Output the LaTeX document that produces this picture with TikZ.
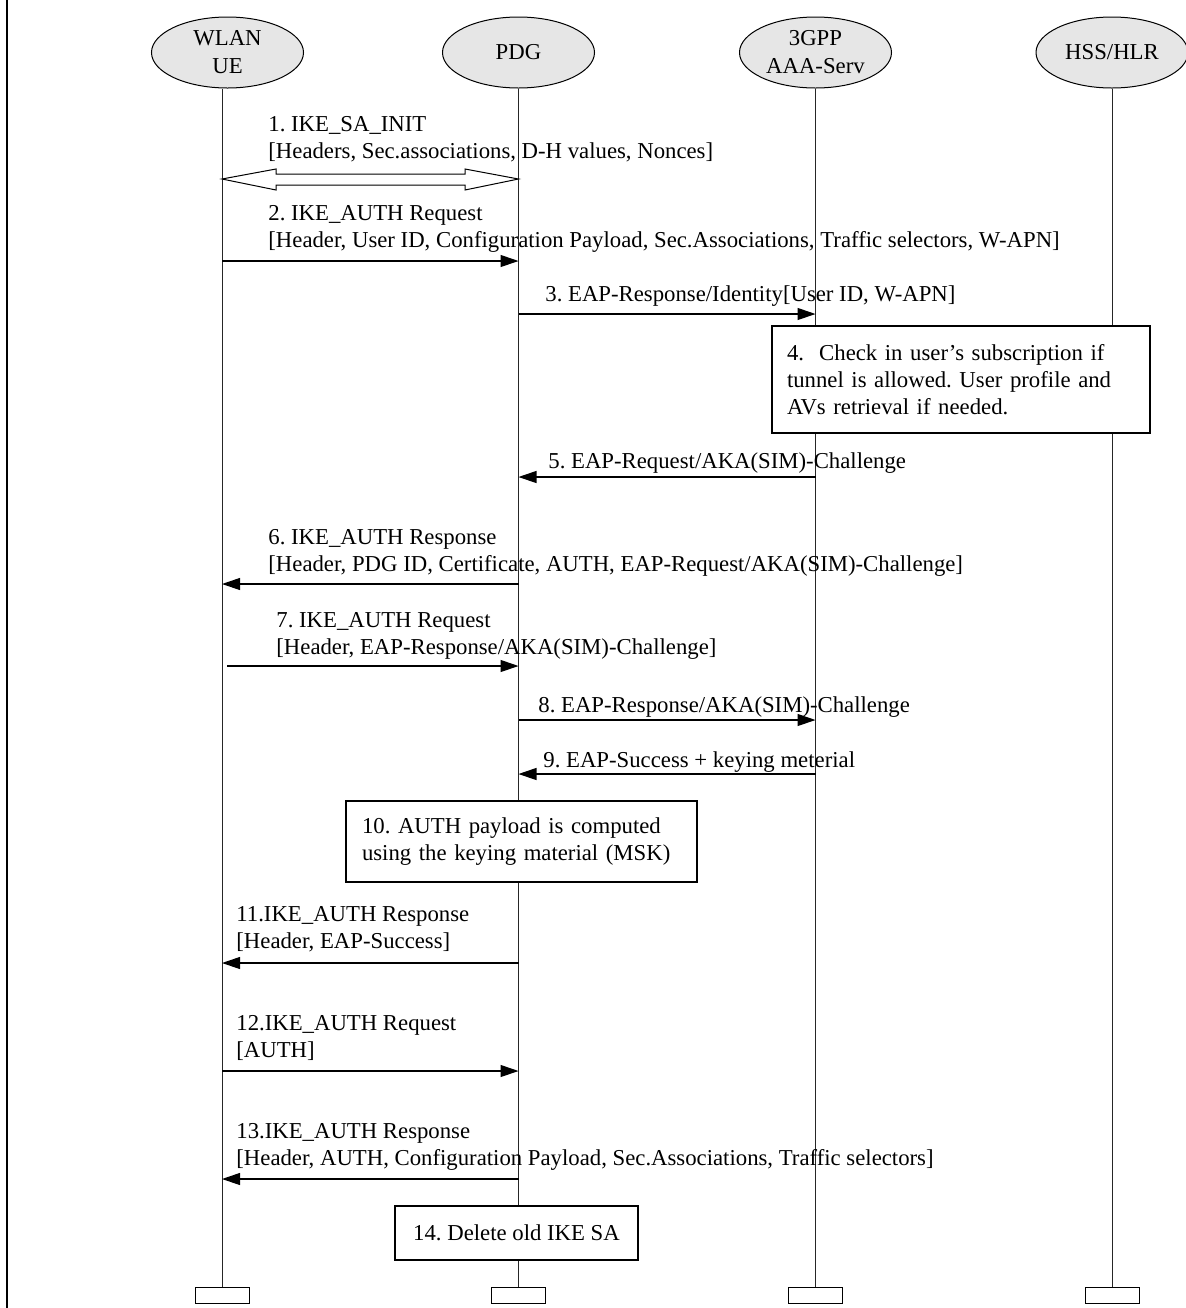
\documentclass[tikz,border=0pt]{standalone}
\usepackage{fontspec}
\setmainfont{Liberation Serif}
\usetikzlibrary{arrows.meta,shapes.geometric}
\definecolor{ellfill}{RGB}{230,230,230}
\newcommand{\twolines}[2]{\begin{tabular}[t]{@{}l@{}}#1\\\relax #2\end{tabular}}
\begin{document}
\frenchspacing
\begin{tikzpicture}[x=0.5pt,y=-0.5pt,
  every node/.style={font=\fontsize{11.375}{13.5}\selectfont\frenchspacing},
  actor/.style={ellipse, draw, fill=ellfill, minimum width=76pt, minimum height=35.5pt,
    inner sep=0pt, align=center, line width=0.5pt, font=\fontsize{11.375}{14}\selectfont},
  foot/.style={rectangle, draw, fill=white, minimum width=27pt, minimum height=8pt,
    inner sep=0pt, line width=0.5pt},
  life/.style={line width=0.5pt, draw=black!85},
  msg/.style={line width=0.55pt, -{Triangle[length=9pt,width=6pt]}},
  lbl/.style={anchor=base west, inner sep=0pt},
  note/.style={rectangle, draw, fill=white, line width=0.55pt, inner ysep=0pt}]
\useasboundingbox (0,0) rectangle (1185,1308);
% left border line
\draw[line width=1.2pt] (7,0) -- (7,1308);
% actors
\node[actor] (ue)  at (227.5,52.5) {WLAN\\UE};
\node[actor] (pdg) at (518.5,52.5) {PDG};
\node[actor] (aaa) at (815.5,52.5) {3GPP\\AAA-Serv};
\node[actor] (hss) at (1112,52.5) {HSS/HLR};
% feet
\node[foot] (uef)  at (222,1295) {};
\node[foot] (pdgf) at (518.5,1295) {};
\node[foot] (aaaf) at (815.5,1295) {};
\node[foot] (hssf) at (1112,1295) {};
% lifelines
\draw[life] (uef.north) -- (uef.north |- ue.south);
\draw[life] (pdgf.north) -- (pdg.south);
\draw[life] (aaaf.north) -- (aaa.south);
\draw[life] (hssf.north) -- (hss.south);
% boxes
\node[note, text width=174pt, inner xsep=7.5pt, minimum height=53.5pt, align=left] (n4) at (961,379.5)
  {4.\ \ Check in user’s subscription if\\tunnel is allowed. User profile and\\AVs retrieval if needed.};
\node[note, text width=159.5pt, inner xsep=8pt, minimum height=40.5pt, align=left] (n10) at (521.5,841.5)
  {10. AUTH payload is computed\\using the keying material (MSK)};
\node[note, minimum width=121.5pt, minimum height=27pt, align=center] (n14) at (516.5,1233)
  {14. Delete old IKE SA};
% message 1 (double hollow arrow)
\coordinate (m1a) at (222,179);
\coordinate (m1b) at (518.5,179);
\draw[line width=0.5pt, fill=white] (m1a) -- (276,169) -- (276,174) -- (465,174) -- (465,169) -- (m1b)
  -- (465,190) -- (465,185) -- (276,185) -- (276,190) -- cycle;
% message end points
\coordinate (m2a) at (222,261);   \coordinate (m2b) at (518.5,261);
\coordinate (m3a) at (518.5,314); \coordinate (m3b) at (815.5,314);
\coordinate (m5a) at (815.5,477); \coordinate (m5b) at (518.5,477);
\coordinate (m6a) at (518.5,584); \coordinate (m6b) at (222,584);
\coordinate (m7a) at (227,666);   \coordinate (m7b) at (518.5,666);
\coordinate (m8a) at (518.5,720); \coordinate (m8b) at (815.5,720);
\coordinate (m9a) at (815.5,774); \coordinate (m9b) at (518.5,774);
\coordinate (m11a) at (518.5,963); \coordinate (m11b) at (222,963);
\coordinate (m12a) at (222,1071);  \coordinate (m12b) at (518.5,1071);
\coordinate (m13a) at (518.5,1179); \coordinate (m13b) at (222,1179);
\draw[msg] (m2a) -- (m2b);
\draw[msg] (m3a) -- (m3b);
\draw[msg] (m5a) -- (m5b);
\draw[msg] (m6a) -- (m6b);
\draw[msg] (m7a) -- (m7b);
\draw[msg] (m8a) -- (m8b);
\draw[msg] (m9a) -- (m9b);
\draw[msg] (m11a) -- (m11b);
\draw[msg] (m12a) -- (m12b);
\draw[msg] (m13a) -- (m13b);
% labels
\node[lbl] (t1) at (268,131) {\twolines{1. IKE\_SA\_INIT}{[Headers, Sec.associations, D-H values, Nonces]}};
\node[lbl] (t2) at (268,220) {\twolines{2. IKE\_AUTH Request}{[Header, User ID, Configuration Payload, Sec.Associations, Traffic selectors, W-APN]}};
\node[lbl] (t3) at (545,301) {3. EAP-Response/Identity[User ID, W-APN]};
\node[lbl] (t5) at (548,468) {5. EAP-Request/AKA(SIM)-Challenge};
\node[lbl] (t6) at (268,544) {\twolines{6. IKE\_AUTH Response}{[Header, PDG ID, Certificate, AUTH, EAP-Request/AKA(SIM)-Challenge]}};
\node[lbl] (t7) at (276,627) {\twolines{7. IKE\_AUTH Request}{[Header, EAP-Response/AKA(SIM)-Challenge]}};
\node[lbl] (t8) at (538,712) {8. EAP-Response/AKA(SIM)-Challenge};
\node[lbl] (t9) at (543,767) {9. EAP-Success + keying meterial};
\node[lbl] (t11) at (236,921) {\twolines{11.IKE\_AUTH Response}{[Header, EAP-Success]}};
\node[lbl] (t12) at (236,1030) {\twolines{12.IKE\_AUTH Request}{[AUTH]}};
\node[lbl] (t13) at (236,1138) {\twolines{13.IKE\_AUTH Response}{[Header, AUTH, Configuration Payload, Sec.Associations, Traffic selectors]}};
\end{tikzpicture}
\end{document}
